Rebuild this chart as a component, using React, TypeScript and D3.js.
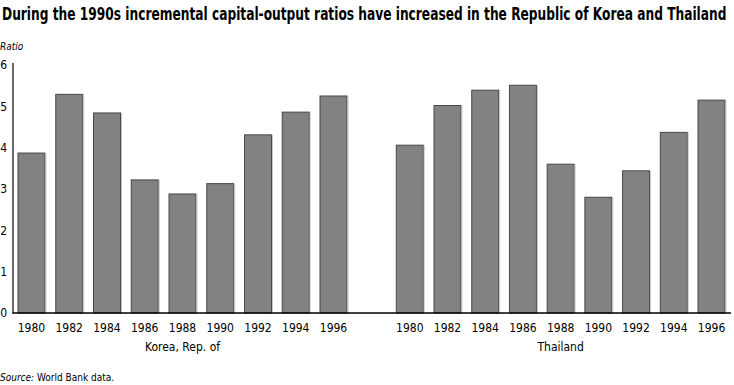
import { useEffect, useRef } from "react";
import * as d3 from "d3";

const years = ["1980", "1982", "1984", "1986", "1988", "1990", "1992", "1994", "1996"];
const koreaValues = [3.87, 5.29, 4.84, 3.22, 2.88, 3.13, 4.31, 4.86, 5.25];
const thailandValues = [4.06, 5.02, 5.39, 5.51, 3.6, 2.8, 3.44, 4.37, 5.15];
const yTicks = [0, 1, 2, 3, 4, 5, 6];

const FONT = "'DejaVu Sans Condensed', 'Liberation Sans Narrow', sans-serif";

export default function App() {
  const svgRef = useRef<SVGSVGElement>(null);

  useEffect(() => {
    document.body.style.margin = "0";
    if (!svgRef.current) return;
    const width = 734;
    const height = 385;
    const svg = d3.select(svgRef.current);
    svg.selectAll("*").remove();
    svg.attr("width", width).attr("height", height).style("font-family", FONT);

    const y = d3.scaleLinear().domain([0, 6]).range([313, 65]);

    const groups = [
      { name: "Korea, Rep. of", values: koreaValues, range: [18, 347] as [number, number] },
      { name: "Thailand", values: thailandValues, range: [396.3, 725] as [number, number] },
    ];

    // title, squeezed horizontally to fit the width like the condensed original
    const title = svg
      .append("text")
      .attr("x", 0)
      .attr("y", 0)
      .attr("font-size", 17)
      .attr("font-weight", "bold")
      .attr("fill", "#000")
      .text("During the 1990s incremental capital-output ratios have increased in the Republic of Korea and Thailand");
    const natural = (title.node() as SVGTextElement).getComputedTextLength() || 725;
    title.attr("transform", `translate(2,20) scale(${725 / natural},1)`);

    svg
      .append("text")
      .attr("x", 0)
      .attr("y", 50)
      .attr("font-size", 10)
      .attr("font-style", "italic")
      .text("Ratio");

    // y tick labels
    svg
      .append("g")
      .selectAll("text")
      .data(yTicks)
      .join("text")
      .attr("x", 7)
      .attr("y", (d) => y(d))
      .attr("dy", "0.35em")
      .attr("text-anchor", "end")
      .attr("font-size", 12)
      .text((d) => d);

    groups.forEach((grp) => {
      const x = d3.scaleBand<string>().domain(years).range(grp.range).paddingInner(0.285).paddingOuter(0);
      const g = svg.append("g");

      g.selectAll("rect")
        .data(grp.values)
        .join("rect")
        .attr("x", (_d, i) => x(years[i])!)
        .attr("y", (d) => y(d))
        .attr("width", x.bandwidth())
        .attr("height", (d) => y(0) - y(d))
        .attr("fill", "#828282")
        .attr("stroke", "#474747")
        .attr("stroke-width", 1);

      // light right edge
      g.selectAll("line.hl")
        .data(grp.values)
        .join("line")
        .attr("class", "hl")
        .attr("x1", (_d, i) => x(years[i])! + x.bandwidth() + 1)
        .attr("x2", (_d, i) => x(years[i])! + x.bandwidth() + 1)
        .attr("y1", (d) => y(d))
        .attr("y2", y(0))
        .attr("stroke", "#c8c8c8")
        .attr("stroke-width", 1);

      g.selectAll("text.yr")
        .data(years)
        .join("text")
        .attr("class", "yr")
        .attr("x", (d) => x(d)! + x.bandwidth() / 2)
        .attr("y", 332)
        .attr("text-anchor", "middle")
        .attr("font-size", 12)
        .text((d) => d);

      g.append("text")
        .attr("x", x("1988")! + x.bandwidth() / 2)
        .attr("y", 351)
        .attr("text-anchor", "middle")
        .attr("font-size", 12)
        .text(grp.name);
    });

    // axes lines
    svg.append("line").attr("x1", 13).attr("x2", 13).attr("y1", 63).attr("y2", 313.5).attr("stroke", "#000").attr("stroke-width", 1.2);
    svg.append("line").attr("x1", 12.5).attr("x2", 731).attr("y1", 313).attr("y2", 313).attr("stroke", "#000").attr("stroke-width", 1.5);

    const src = svg.append("text").attr("x", 0).attr("y", 381).attr("font-size", 10);
    src.append("tspan").attr("font-style", "italic").text("Source:");
    src.append("tspan").text(" World Bank data.");
  }, []);

  return <svg ref={svgRef} style={{ display: "block" }} />;
}
